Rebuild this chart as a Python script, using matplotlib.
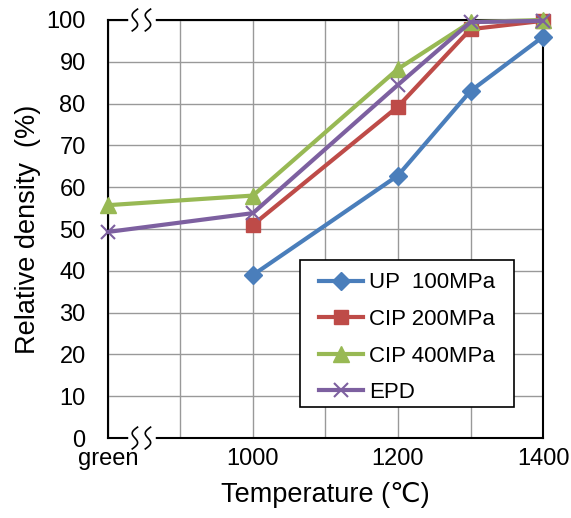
import numpy as np
import matplotlib.pyplot as plt
from matplotlib.patches import Rectangle

plt.rcParams['font.family'] = ['Liberation Sans', 'DejaVu Sans']

# x positions: "green" body is drawn at 800 on the temperature scale
temps_up = [1000, 1200, 1300, 1400]
temps_all = [800, 1000, 1200, 1300, 1400]

up_100 = [39.0, 62.8, 83.0, 96.0]
cip_200 = [51.0, 79.3, 97.8, 99.8]
cip_400 = [55.7, 58.0, 88.3, 99.5, 100.0]
epd = [49.3, 53.8, 84.5, 99.5, 99.8]

x_ticks = [800, 900, 1000, 1100, 1200, 1300, 1400]
x_labels = ['green', '', '1000', '', '1200', '', '1400']

fig = plt.figure(figsize=(5.71, 5.18), dpi=100)
ax = fig.add_axes([0.189, 0.1544, 0.762, 0.807])

ax.plot(temps_up, up_100, color='#4A7EBB', lw=3, marker='D', ms=9, label='UP  100MPa', clip_on=False, zorder=3)
ax.plot(temps_up, cip_200, color='#BE4B48', lw=3, marker='s', ms=10, label='CIP 200MPa', clip_on=False, zorder=3)
ax.plot(temps_all, cip_400, color='#98B954', lw=3, marker='^', ms=11, label='CIP 400MPa', clip_on=False, zorder=3)
ax.plot(temps_all, epd, color='#7D60A0', lw=3, marker='x', ms=10, mew=1.5, label='EPD', clip_on=False, zorder=3)

ax.set_xlim(800, 1400)
ax.set_ylim(0, 100)
ax.set_xticks(x_ticks)
ax.set_xticklabels(x_labels)
ax.set_yticks(np.arange(0, 101, 10))
ax.tick_params(length=0, labelsize=17)
ax.tick_params(axis='y', pad=16)
ax.tick_params(axis='x', pad=7.5)
ax.grid(True, color='#999999', lw=1)
ax.set_axisbelow(True)
for s in ax.spines.values():
    s.set_color('black')
    s.set_linewidth(1.5)

ax.set_xlabel('Temperature (℃)', fontsize=19.5, labelpad=8.5)
ax.set_ylabel('Relative density  (%)', fontsize=19.5, labelpad=4)

# legend box drawn separately so its padding matches the original
box = Rectangle((0.441, 0.074), 0.492, 0.352, transform=ax.transAxes,
                facecolor='white', edgecolor='black', lw=1.2, zorder=8)
ax.add_patch(box)
leg = ax.legend(loc='upper left', bbox_to_anchor=(0.485, 0.396), fontsize=16,
                frameon=False, handlelength=2.0, handletextpad=0.25,
                borderpad=0, labelspacing=0.7, borderaxespad=0)
leg.set_zorder(9)

# axis break marks on top and bottom spines
def break_mark(x0, y0):
    t = np.linspace(-1, 1, 40)
    ax.plot([x0 - 0.01, x0 + 0.042], [y0, y0], transform=ax.transAxes,
            color='white', lw=4, clip_on=False, zorder=5)
    for dx in (0.0, 0.03):
        xs = x0 + dx - 0.009 * np.sin(np.pi * t) + 0.006 * t
        ys = y0 + 0.026 * t
        ax.plot(xs, ys, transform=ax.transAxes, color='black',
                lw=1.2, clip_on=False, zorder=6)

break_mark(0.062, 1.0)
break_mark(0.062, 0.0)

fig.savefig('out.png', dpi=100)
